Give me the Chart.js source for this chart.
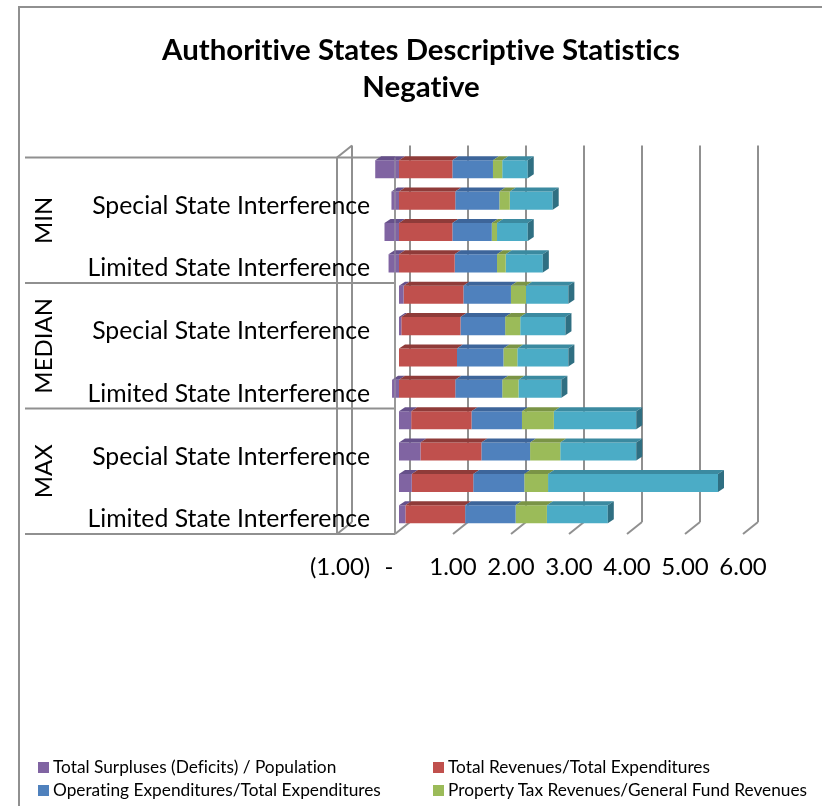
<!DOCTYPE html>
<html>
<head>
<meta charset="utf-8">
<script src="https://cdn.jsdelivr.net/npm/chart.js@4"></script>
<style>
    html, body { margin: 0; padding: 0; background: #fff; overflow: hidden; }
    #frame { position: absolute; left: 18px; top: 6px; width: 804px; height: 800px;
             border-left: 2px solid #909090; border-top: 2px solid #909090; box-sizing: border-box; }
    #legend { position: absolute; left: 37px; top: 757px; width: 785px; font: 17.3px Lato, sans-serif; color: #000;
              font-variant-ligatures: none; }
    .item { position: absolute; white-space: nowrap; line-height: 20px; }
    .item i { position: absolute; left: 1px; top: 5px; width: 11px; height: 11px; }
    .item span { position: absolute; left: 16px; top: 0; }
</style>
</head>
<body>
<div id="frame"><canvas id="chart" width="802" height="798"></canvas></div>
<div id="legend"></div>
<script>
const categories = ['', 'Special State Interference', '', 'Limited State Interference',
                    '', 'Special State Interference', '', 'Limited State Interference',
                    '', 'Special State Interference', '', 'Limited State Interference'];
const groups = ['MIN', 'MEDIAN', 'MAX'];
const xTicks = [-1, 0, 1, 2, 3, 4, 5, 6];

const surplus   = [-0.41, -0.13, -0.25, -0.18, 0.08, 0.04, 0, -0.12, 0.21, 0.37, 0.22, 0.11];
const revenues  = [0.92, 0.97, 0.92, 0.96, 1.03, 1.02, 1.00, 0.97, 1.04, 1.05, 1.06, 1.03];
const operating = [0.70, 0.76, 0.68, 0.73, 0.82, 0.77, 0.80, 0.81, 0.87, 0.84, 0.88, 0.87];
const property  = [0.16, 0.18, 0.09, 0.15, 0.26, 0.26, 0.24, 0.28, 0.55, 0.52, 0.41, 0.54];
const other     = [0.44, 0.74, 0.53, 0.64, 0.73, 0.78, 0.88, 0.74, 1.42, 1.31, 2.93, 1.05];

const seriesNames = ['Total Surpluses (Deficits) / Population', 'Total Revenues/Total Expenditures',
                     'Operating Expenditures/Total Expenditures', 'Property Tax Revenues/General Fund Revenues'];
const faceColors = ['#8064a2', '#c0504d', '#4f81bd', '#9bbb59', '#4bacc6'];
const topColors  = ['#66508a', '#8f3b39', '#3d659a', '#7a9446', '#3b8aa0'];
const sideColor  = '#2f6f82';

const gridColor = '#909090';
const labelFont = '24.8px Lato, sans-serif';
// offsets of the 3D box planes relative to the plane the bars sit on
const front = {x: -4, y: 4};
const back = {x: 11, y: -8};
const barDepth = {x: 6, y: 4};

function line(ctx, x1, y1, x2, y2) {
    ctx.beginPath();
    ctx.moveTo(x1, y1);
    ctx.lineTo(x2, y2);
    ctx.stroke();
}

// walls, floor lines and the grouped category axis
const boxPlugin = {
    id: 'box',
    beforeDraw(chart) {
        // letter spacing turns off the "ti" ligatures of the font
        chart.ctx.letterSpacing = '0.01px';
    },
    beforeDatasetsDraw(chart) {
        const ctx = chart.ctx;
        const xs = chart.scales.x;
        const ys = chart.scales.y;
        const top = ys.top, bottom = ys.bottom;
        ctx.save();
        ctx.strokeStyle = gridColor;
        ctx.lineWidth = 2;
        for (let v of xTicks) {
            const px = xs.getPixelForValue(v);
            line(ctx, px + back.x, top + back.y, px + back.x, bottom + back.y);
            line(ctx, px + back.x, bottom + back.y, px + front.x, bottom + front.y);
        }
        const wall = xs.getPixelForValue(-1);
        const zero = xs.getPixelForValue(0);
        line(ctx, wall + front.x, top + front.y, wall + front.x, bottom + front.y);
        line(ctx, wall + front.x, top + front.y, wall + back.x, top + back.y);
        line(ctx, zero + front.x, top + front.y, zero + front.x, bottom + front.y);

        // group separators, every 4 categories
        const band = (bottom - top) / categories.length;
        ctx.fillStyle = '#000';
        ctx.font = labelFont;
        ctx.textBaseline = 'middle';
        ctx.textAlign = 'center';
        for (let g = 0; g <= groups.length; g++) {
            const y = top + front.y + g * 4 * band;
            line(ctx, 5, y, zero + front.x, y);
            if (g < groups.length) {
                ctx.save();
                ctx.font = '24px Lato, sans-serif';
                ctx.translate(24, y + 2 * band);
                ctx.rotate(-Math.PI / 2);
                ctx.fillText(groups[g], 0, 0);
                ctx.restore();
            }
        }

        // category names sit over the wall, past the left edge of the scale
        ctx.textAlign = 'right';
        categories.forEach((name, i) => {
            ctx.fillText(name, wall + 29, ys.getPixelForValue(i) + 5);
        });
        ctx.restore();
    },
    afterDatasetsDraw(chart) {
        const ctx = chart.ctx;
        const ys = chart.scales.y;
        const zero = chart.scales.x.getPixelForValue(0);
        const last = chart.data.datasets.length - 1;
        ctx.save();
        chart.data.datasets.forEach((ds, d) => {
            chart.getDatasetMeta(d).data.forEach(bar => {
                const left = Math.min(bar.x, bar.base);
                const right = Math.max(bar.x, bar.base);
                const t = bar.y - bar.height / 2;
                const b = bar.y + bar.height / 2;
                if (right - left < 0.5) return;
                ctx.fillStyle = topColors[d];
                ctx.beginPath();
                ctx.moveTo(left, t);
                ctx.lineTo(left + barDepth.x, t - barDepth.y);
                ctx.lineTo(right + barDepth.x, t - barDepth.y);
                ctx.lineTo(right, t);
                ctx.closePath();
                ctx.fill();
                if (d === last) {
                    ctx.fillStyle = sideColor;
                    ctx.beginPath();
                    ctx.moveTo(right, t);
                    ctx.lineTo(right + barDepth.x, t - barDepth.y);
                    ctx.lineTo(right + barDepth.x, b - barDepth.y);
                    ctx.lineTo(right, b);
                    ctx.closePath();
                    ctx.fill();
                }
            });
        });
        // the zero axis shows faintly through the negative bars
        ctx.strokeStyle = 'rgba(170,170,170,0.35)';
        ctx.lineWidth = 2;
        line(ctx, zero + front.x, ys.top + front.y, zero + front.x, ys.bottom + front.y);
        ctx.restore();
    }
};

function tickText(v) {
    if (v === 0) return '-  ';
    if (v < 0) return ' (' + Math.abs(v).toFixed(2) + ')';
    return v.toFixed(2);
}

const seriesValues = [surplus, revenues, operating, property, other];

new Chart(document.getElementById('chart'), {
    type: 'bar',
    data: {
        labels: categories,
        datasets: seriesValues.map((values, i) => ({
            label: seriesNames[i] || '',
            data: values,
            backgroundColor: faceColors[i],
            borderWidth: 0,
            barPercentage: 0.575,
            categoryPercentage: 1
        }))
    },
    plugins: [boxPlugin],
    options: {
        indexAxis: 'y',
        responsive: false,
        animation: false,
        plugins: {
            legend: {display: false},
            tooltip: {enabled: false},
            title: {
                display: true,
                text: ['Authoritive States Descriptive Statistics', 'Negative'],
                color: '#000',
                font: {family: 'Lato, sans-serif', size: 29.4, weight: 'bold', lineHeight: 1.26},
                padding: {top: 23.5, bottom: 48}
            }
        },
        scales: {
            x: {
                stacked: true,
                min: -1,
                max: 7.293,   // the scale runs on to the edge, ticks stop at 6
                afterFit(scale) { scale.height = 276; },
                afterBuildTicks(scale) { scale.ticks = xTicks.map(v => ({value: v})); },
                grid: {display: false},
                border: {display: false},
                ticks: {
                    callback: tickText,
                    autoSkip: false,
                    maxRotation: 0,
                    labelOffset: -4,
                    padding: 15,
                    color: '#000',
                    font: {family: 'Lato, sans-serif', size: 24}
                }
            },
            y: {
                stacked: true,
                afterFit(scale) { scale.width = 321; },
                grid: {display: false, drawTicks: false},
                border: {display: false},
                ticks: {display: false}
            }
        }
    }
});

// two-column key, the last series has no entry
const legendBox = document.getElementById('legend');
seriesNames.forEach((name, i) => {
    const item = document.createElement('div');
    item.className = 'item';
    item.style.left = (i % 2 ? 395 : 0) + 'px';
    item.style.top = (i < 2 ? 0 : 23) + 'px';
    const swatch = document.createElement('i');
    swatch.style.background = faceColors[i];
    const text = document.createElement('span');
    text.textContent = name;
    item.appendChild(swatch);
    item.appendChild(text);
    legendBox.appendChild(item);
});
</script>
</body>
</html>
